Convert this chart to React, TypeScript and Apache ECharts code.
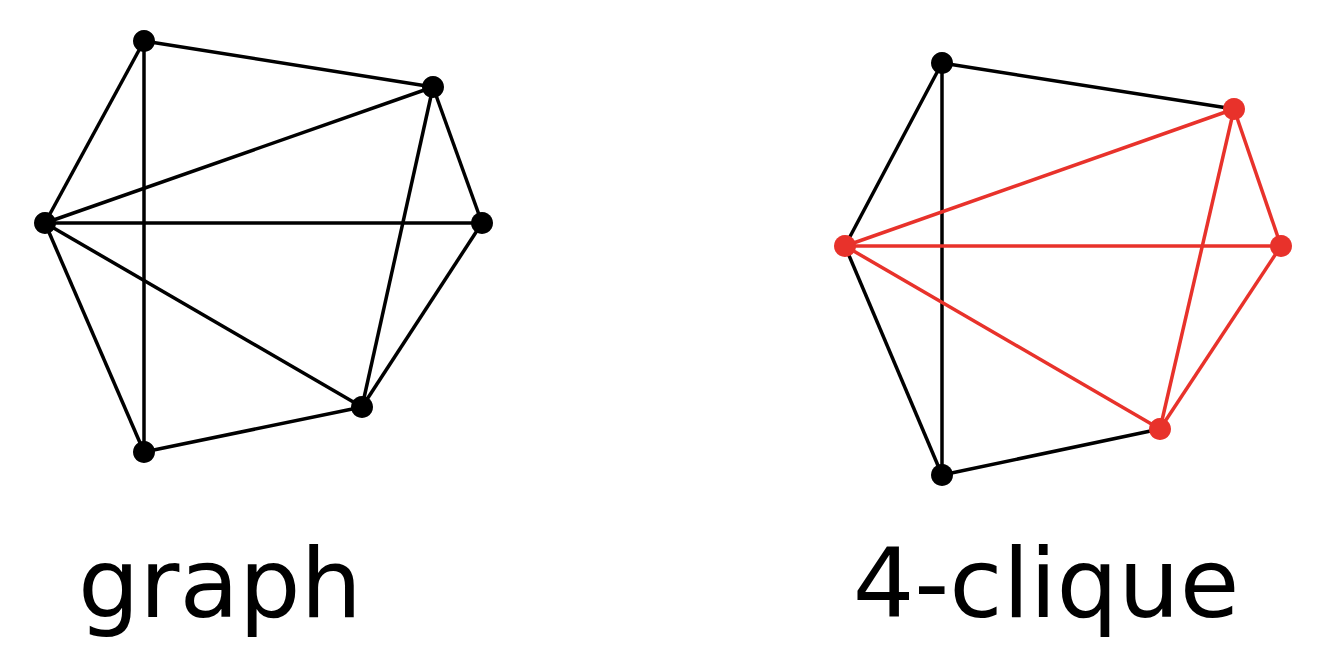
import React, { useRef, useEffect } from 'react';
import * as echarts from 'echarts';

// node positions (page pixels) for the two drawings
const leftNodes: [string, number, number][] = [
  ['A', 144, 41], ['B', 433, 87], ['C', 482, 223],
  ['D', 362, 407], ['E', 144, 452], ['F', 45, 223],
];
const rightNodes: [string, number, number][] = [
  ['A2', 942, 63], ['B2', 1234, 109], ['C2', 1281, 246],
  ['D2', 1160, 429], ['E2', 942, 475], ['F2', 845, 246],
];
const leftEdges: [string, string][] = [
  ['A', 'B'], ['A', 'E'], ['A', 'F'], ['B', 'F'], ['B', 'C'], ['B', 'D'],
  ['C', 'F'], ['C', 'D'], ['D', 'F'], ['D', 'E'], ['E', 'F'],
];
const rightEdgesBlack: [string, string][] = [
  ['A2', 'B2'], ['A2', 'E2'], ['A2', 'F2'], ['E2', 'F2'], ['D2', 'E2'],
];
const cliqueEdges: [string, string][] = [
  ['F2', 'B2'], ['F2', 'C2'], ['F2', 'D2'], ['B2', 'C2'], ['B2', 'D2'], ['C2', 'D2'],
];
const cliqueNodes = ['B2', 'C2', 'D2', 'F2'];
const labels: [string, number, number][] = [
  ['graph', 220, 583], ['4-clique', 1046, 583],
];

const RED = '#e8322b';

const App: React.FC = () => {
  const ref = useRef<HTMLDivElement>(null);

  useEffect(() => {
    document.body.style.margin = '0';
    if (!ref.current) return;
    const chart = echarts.init(ref.current, undefined, { renderer: 'svg' });

    const nodes = [...leftNodes, ...rightNodes].map(([name, x, y]) => ({
      name,
      value: [x, y],
      itemStyle: { color: cliqueNodes.includes(name) ? RED : '#000' },
    }));
    const link = (color: string) => ([s, t]: [string, string]) => ({
      source: s,
      target: t,
      lineStyle: { color, width: 3.5, opacity: 1 },
    });
    const links = [
      ...leftEdges.map(link('#000')),
      ...rightEdgesBlack.map(link('#000')),
      ...cliqueEdges.map(link(RED)),
    ];

    chart.setOption({
      animation: false,
      grid: { left: 0, right: 0, top: 0, bottom: 0 },
      xAxis: { type: 'value', min: 0, max: 1322, show: false },
      yAxis: { type: 'value', min: 0, max: 668, inverse: true, show: false },
      series: [
        {
          type: 'graph',
          coordinateSystem: 'cartesian2d',
          symbolSize: 22,
          data: nodes,
          links,
          z: 2,
        },
        {
          type: 'scatter',
          symbolSize: 0,
          data: labels.map(([t, x, y]) => ({ value: [x, y], name: t })),
          label: {
            show: true,
            position: 'inside',
            formatter: '{b}',
            fontSize: 97,
            color: '#000000',
            opacity: 1,
            fontFamily: 'DejaVu Sans',
          },
          itemStyle: { color: '#000' },
        },
      ],
    });
    return () => chart.dispose();
  }, []);

  return <div ref={ref} style={{ width: 1322, height: 668 }} />;
};

export default App;
